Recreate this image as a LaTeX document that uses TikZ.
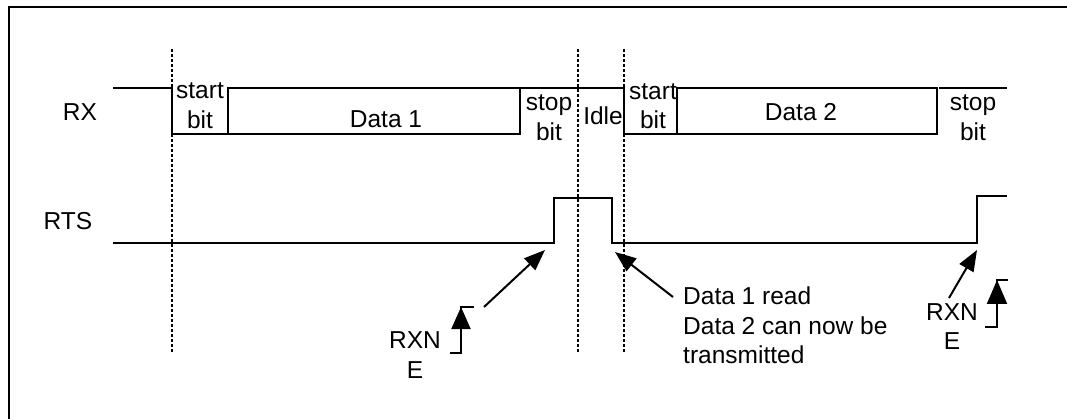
\documentclass[tikz,border=0pt]{standalone}
\usepackage{fontspec}
\setmainfont{Liberation Sans}
\usetikzlibrary{arrows.meta}

\begin{document}
\begin{tikzpicture}[x=1pt,y=-1pt,>={Triangle[length=21pt,width=16pt]},
  sig/.style={line width=2pt},
  guide/.style={line width=1.5pt,dash pattern=on 3pt off 2pt},
  lbl/.style={font=\fontsize{24.5}{29.5}\selectfont,inner sep=0pt,align=center}]
  \useasboundingbox (0,0) rectangle (1067,419);
  % frame
  \draw[line width=2pt] (9,419) -- (9,7) -- (1067,7);
  % guides
  \draw[guide] (172,49) -- (172,353);
  \draw[guide] (578,49) -- (578,353);
  \draw[guide] (624,49) -- (624,353);
  % RX
  \draw[sig] (113,88) -| (172,134) -- (228,134);
  \draw[sig] (228,88) rectangle (520,134);
  \draw[sig] (520,88) -- (624,88) -- (624,134) -- (677,134);
  \draw[sig] (677,88) rectangle (937,134);
  \draw[sig] (939,88) -- (1007,88);
  % RTS
  \draw[sig] (113,243) -- (554,243) -- (554,198) -- (612,198) -- (612,243)
    -- (977,243) -- (977,196) -- (1007,196);
  % labels
  \node[lbl] (rx)  at (80,112)    {RX};
  \node[lbl] (rts) at (68,221)    {RTS};
  \node[lbl] (s1)  at (200,105.5) {start\\bit};
  \node[lbl] (d1)  at (386,119)   {Data 1};
  \node[lbl] (p1)  at (549,117.5) {stop\\bit};
  \node[lbl] (idl) at (603,116)   {Idle};
  \node[lbl] (s2)  at (653,106)   {start\\bit};
  \node[lbl] (d2)  at (801,112.5) {Data 2};
  \node[lbl] (p2)  at (973,117.5) {stop\\bit};
  \node[lbl,align=left,anchor=north west] (rd) at (683,287)
    {Data 1 read\\Data 2 can now be\\transmitted};
  \node[lbl] (e1) at (415,355)   {RXN\\E};
  \node[lbl] (e2) at (952,326.5) {RXN\\E};
  % edge marks
  \draw[sig] (450,353) -- (461,353) -- (461,307) -- (474,307);
  \draw[sig,-{Triangle[length=22pt,width=19pt]}] (461,345) -- (461,307);
  \draw[sig] (985,327) -- (997,327) -- (997,280) -- (1008,280);
  \draw[sig,-{Triangle[length=24pt,width=20pt]}] (997,320) -- (997,280);
  % pointers
  \coordinate (a) at (484,307);
  \coordinate (b) at (545,250);
  \coordinate (c) at (673,297);
  \coordinate (d) at (615,252);
  \coordinate (w) at (949,298);
  \coordinate (x) at (977,250);
  \draw[sig,->] (a) -- (b);
  \draw[sig,->] (c) -- (d);
  \draw[sig,->] (w) -- (x);
\end{tikzpicture}
\end{document}
